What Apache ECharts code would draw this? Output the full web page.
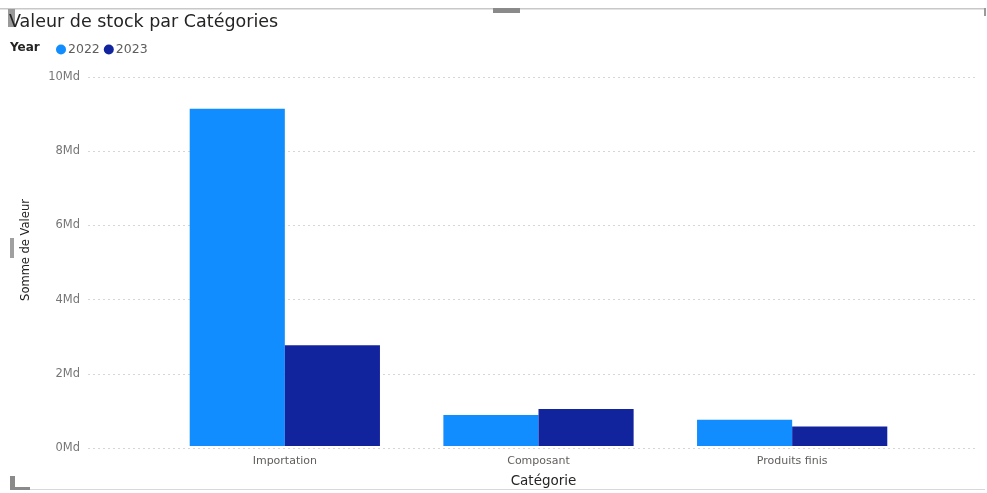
<!DOCTYPE html>
<html>
<head>
<meta charset="utf-8">
<script src="https://cdn.jsdelivr.net/npm/echarts@6/dist/echarts.min.js"></script>
<style>html,body{margin:0;padding:0;background:#fff;}#c{width:987px;height:493px;}</style>
</head>
<body>
<div id="c"></div>
<script>
const categories = ['Importation', 'Composant', 'Produits finis'];
const years = ['2022', '2023'];
const values2022 = [9.14, 0.84, 0.71];
const values2023 = [2.73, 1.0, 0.53];
const yTicks = [0, 2, 4, 6, 8, 10];
const colors = ['#118DFF', '#12239E'];

const chart = echarts.init(document.getElementById('c'));
const font = "'DejaVu Sans', 'Open Sans', sans-serif";
chart.setOption({
  animation: false,
  title: {
    text: 'Valeur de stock par Catégories',
    left: 4, top: 8,
    textStyle: { fontFamily: font, fontSize: 17.5, fontWeight: 'normal', color: '#252423' }
  },
  legend: {
    left: 56, top: 43, padding: 0,
    data: years,
    icon: 'circle', itemWidth: 10, itemHeight: 10, itemGap: 4,
    textStyle: { fontFamily: font, fontSize: 12.5, color: '#605E5C', padding: [0, 0, 0, -3] }
  },
  graphic: [
    { type: 'text', left: 10, top: 42, style: { text: 'Year', font: 'bold 12px ' + font, fill: '#252423' } },
    { type: 'text', x: 26, y: 250, rotation: Math.PI / 2,
      style: { text: 'Somme de Valeur', font: '11.5px ' + font, fill: '#252423', align: 'center', verticalAlign: 'middle' } },
    { type: 'rect', shape: { x: 0, y: 8, width: 985, height: 1.5 }, style: { fill: '#c8c8c8' } },
    { type: 'rect', shape: { x: 493, y: 8, width: 27, height: 5 }, style: { fill: '#8a8a8a' } },
    { type: 'rect', shape: { x: 8, y: 9, width: 7, height: 18 }, style: { fill: '#9a9a9a' } },
    { type: 'rect', shape: { x: 984, y: 8, width: 2, height: 8 }, style: { fill: '#9a9a9a' } },
    { type: 'rect', shape: { x: 10, y: 238, width: 4, height: 20 }, style: { fill: '#a0a0a0' } },
    { type: 'rect', shape: { x: 10, y: 476, width: 5, height: 14 }, style: { fill: '#8a8a8a' } },
    { type: 'rect', shape: { x: 10, y: 487, width: 20, height: 3 }, style: { fill: '#8a8a8a' } },
    { type: 'rect', shape: { x: 30, y: 489, width: 955, height: 1 }, style: { fill: '#d8d8d8' } }
  ],
  grid: [
    { left: 88, right: 12, top: 77, bottom: 45 },
    { left: 158, width: 761, top: 77, bottom: 45 }
  ],
  xAxis: [
    { gridIndex: 0, type: 'value', min: 0, max: 1, show: false },
    {
      gridIndex: 1, type: 'category', data: categories,
      axisLine: { show: false }, axisTick: { show: false },
      axisLabel: { fontFamily: font, fontSize: 11, color: '#605E5C', margin: 10 },
      name: 'Catégorie', nameLocation: 'middle', nameGap: 28,
      nameTextStyle: { fontFamily: font, fontSize: 13.5, color: '#252423', padding: [0, 0, 0, 10] }
    }
  ],
  yAxis: [
    {
      gridIndex: 0, type: 'value', min: 0, max: 10, interval: 2,
      axisLine: { show: false }, axisTick: { show: false },
      axisLabel: { fontFamily: font, fontSize: 11.5, color: '#777', margin: 8,
        formatter: v => yTicks.includes(v) ? v + 'Md' : '' },
      splitLine: { lineStyle: { color: '#d6d6d6', type: [2, 3], width: 1 } }
    },
    { gridIndex: 1, type: 'value', min: 0, max: 10, show: false }
  ],
  series: [
    { name: years[0], type: 'bar', xAxisIndex: 1, yAxisIndex: 1, data: values2022,
      itemStyle: { color: colors[0] }, barGap: '0%', barCategoryGap: '25%' },
    { name: years[1], type: 'bar', xAxisIndex: 1, yAxisIndex: 1, data: values2023,
      itemStyle: { color: colors[1] }, barGap: '0%', barCategoryGap: '25%' }
  ]
});
</script>
</body>
</html>
